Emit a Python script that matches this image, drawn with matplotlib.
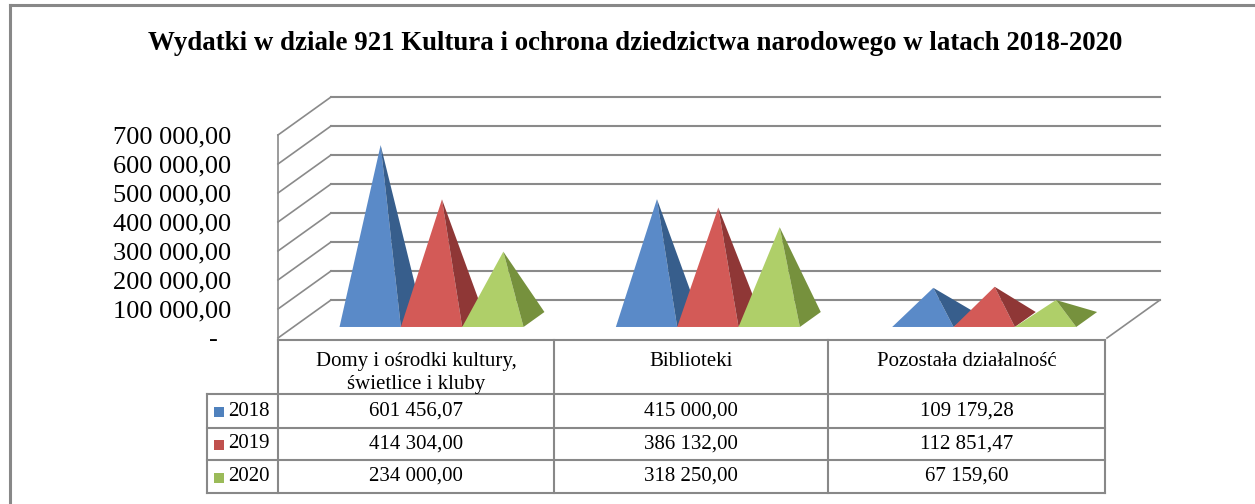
"""Pyramid chart: expenditure in section 921, years 2018-2020, with data table."""

import matplotlib.pyplot as plt
from matplotlib.patches import Polygon, Rectangle

plt.rcParams["font.family"] = ["Liberation Serif", "DejaVu Serif"]

TITLE = "Wydatki w dziale 921 Kultura i ochrona dziedzictwa narodowego w latach 2018-2020"
categories = ["Domy i ośrodki kultury,\nświetlice i kluby", "Biblioteki", "Pozostała działalność"]
years = ["2018", "2019", "2020"]
v2018 = [601456.07, 415000.00, 109179.28]
v2019 = [414304.00, 386132.00, 112851.47]
v2020 = [234000.00, 318250.00, 67159.60]
y_ticks = [0, 100000, 200000, 300000, 400000, 500000, 600000, 700000]

series = [v2018, v2019, v2020]
front_col = ["#5a8ac8", "#d35a57", "#afcf69"]
side_col = ["#375e8c", "#8f3736", "#76913d"]
key_col = ["#4f81bd", "#c0504d", "#9bbb59"]
grid_col = "#8a8a8a"

W, H = 1255, 504
# front plane of the plot area in pixels
PX0, PX1, PY0, PY1 = 278, 1107, 338, 135
# depth offset of back wall in pixels
DPX, DPY = 53, 38


def pl(v):
    return f"{v:,.2f}".replace(",", " ").replace(".", ",")


fig = plt.figure(figsize=(W / 100, H / 100), dpi=100)

# overlay in pixel coordinates for frame, title and data table
ov = fig.add_axes([0, 0, 1, 1])
ov.set_xlim(0, W)
ov.set_ylim(H, 0)
ov.axis("off")

ax = fig.add_axes([PX0 / W, 1 - PY0 / H, (PX1 - PX0) / W, (PY0 - PY1) / H])
ax.set_xlim(0, len(categories))
ax.set_ylim(0, y_ticks[-1])
ax.set_frame_on(False)
ax.patch.set_visible(False)

DX = DPX * len(categories) / (PX1 - PX0)
DY = DPY * y_ticks[-1] / (PY0 - PY1)


def proj(x, y, d):
    return x + d * DX, y + d * DY


ncat = len(categories)
# back wall grid, side wall diagonals
for t in y_ticks:
    xa, ya = proj(0, t, 1)
    xb, yb = proj(ncat, t, 1)
    ax.plot([xa, xb], [ya, yb], color=grid_col, lw=1.5, clip_on=False, zorder=1)
    xf, yf = proj(0, t, 0)
    ax.plot([xf, xa], [yf, ya], color=grid_col, lw=1.2, clip_on=False, zorder=1)
ax.plot([0, 0], [0, y_ticks[-1]], color=grid_col, lw=1.2, clip_on=False, zorder=1)
xa, ya = proj(ncat, 0, 0)
xb, yb = proj(ncat, 0, 1)
ax.plot([xa, xb], [ya, yb], color=grid_col, lw=1.2, clip_on=False, zorder=1)

# pyramids
w = 0.222
gap = (1 - 3 * w) / 2
d0, d1 = 0.29, 0.684
dm = (d0 + d1) / 2
for i in range(ncat):
    for k, vals in enumerate(series):
        x0 = i + gap + k * w
        x1 = x0 + w
        fl = proj(x0, 0, d0)
        fr = proj(x1, 0, d0)
        br = proj(x1, 0, d1)
        apex = proj(x0 + w / 2, vals[i], dm)
        ax.add_patch(Polygon([apex, fl, fr], closed=True, facecolor=front_col[k],
                             edgecolor="none", clip_on=False, zorder=3))
        ax.add_patch(Polygon([apex, fr, br], closed=True, facecolor=side_col[k],
                             edgecolor="none", clip_on=False, zorder=3))

ax.set_xticks([])
ax.set_yticks(y_ticks)
ax.set_yticklabels([pl(t) if t else "-  " for t in y_ticks], fontsize=19)
ax.tick_params(axis="y", length=0, pad=34)

# frame and title
ov.plot([10, W], [5, 5], color="#888888", lw=2.2)
ov.plot([10, 10], [5, H], color="#888888", lw=2.2)
ov.text(635, 50, TITLE, ha="center", va="baseline", fontsize=19.4, fontweight="bold")

# data table
col_x = [207, 278, 554, 828, 1105]
row_y = [340, 394, 428, 460, 493]
tc = "#888888"
ov.plot([col_x[1], col_x[-1]], [row_y[0], row_y[0]], color=tc, lw=1.5)
for y in row_y[1:]:
    ov.plot([col_x[0], col_x[-1]], [y, y], color=tc, lw=1.5)
ov.plot([col_x[0], col_x[0]], [row_y[1], row_y[-1]], color=tc, lw=1.5)
for x in col_x[1:]:
    ov.plot([x, x], [row_y[0], row_y[-1]], color=tc, lw=1.5)

for j, name in enumerate(categories):
    cx = (col_x[j + 1] + col_x[j + 2]) / 2
    ov.text(cx, 352, name, ha="center", va="top", fontsize=15, linespacing=1.3)
for k, (yr, vals) in enumerate(zip(years, series)):
    cy = (row_y[k + 1] + row_y[k + 2]) / 2
    ov.add_patch(Rectangle((214, cy - 4), 10, 10, facecolor=key_col[k], edgecolor="none"))
    ov.text(228, cy, yr, ha="left", va="center", fontsize=15)
    for j, v in enumerate(vals):
        cx = (col_x[j + 1] + col_x[j + 2]) / 2
        ov.text(cx, cy, pl(v), ha="center", va="center", fontsize=15)

fig.savefig("out.png", dpi=100)
